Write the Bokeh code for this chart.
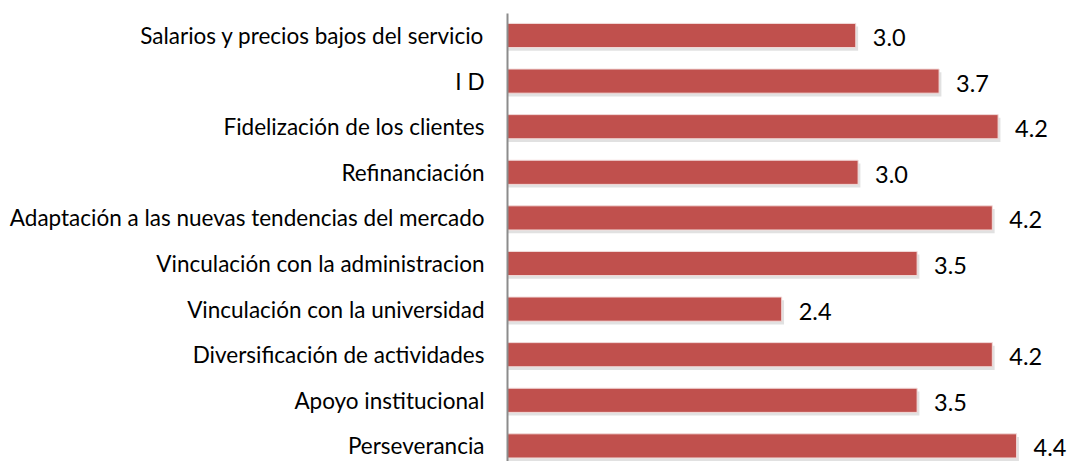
from bokeh.plotting import figure
from bokeh.models import Range1d, FixedTicker, ColumnDataSource
from bokeh.embed import file_html
from bokeh.resources import INLINE
from bokeh.core.properties import value

categories = [
    "Salarios y precios bajos del servicio",
    "I D",
    "Fidelización de los clientes",
    "Refinanciación",
    "Adaptación a las nuevas tendencias del mercado",
    "Vinculación con la administracion",
    "Vinculación con la universidad",
    "Diversificación de actividades",
    "Apoyo institucional",
    "Perseverancia",
]
values = [3.01, 3.73, 4.24, 3.03, 4.19, 3.54, 2.37, 4.19, 3.54, 4.4]

ypos = list(range(len(categories)))
labels = [f"{v:.1f}" for v in values]

src = ColumnDataSource(dict(
    y=ypos,
    ys=[y + 0.07 for y in ypos],
    v=values,
    vs=[v + 0.02 for v in values],
    lab=labels,
))

p = figure(width=1069, height=461, output_backend="svg", toolbar_location=None,
           x_range=Range1d(0, 4.857), y_range=Range1d(9.342, -0.4825),
           min_border_left=507, min_border_right=0, min_border_top=13, min_border_bottom=0)
p.outline_line_color = None
p.grid.visible = False
p.xaxis.visible = False

# shadow
p.hbar(y="ys", right="vs", left=0, height=0.53, source=src,
       fill_color="#9a9a9a", fill_alpha=0.3, line_color=None)
# bars
p.hbar(y="y", right="v", left=0, height=0.53, source=src,
       fill_color="#C0504D", line_color="#f2dcdb", line_width=1)

p.text(x="v", y="y", text="lab", source=src, x_offset=17, y_offset=2,
       text_baseline="middle", text_align="left",
       text_font=value("Lato"), text_font_size="23.5px", text_color="#000000")

ya = p.yaxis[0]
ya.ticker = FixedTicker(ticks=ypos)
ya.major_label_overrides = {i: c for i, c in zip(ypos, categories)}
ya.major_tick_line_color = None
ya.minor_tick_line_color = None
ya.major_tick_out = 0
ya.major_tick_in = 0
ya.major_label_standoff = 23
ya.major_label_text_font = "Lato"
ya.major_label_text_font_size = "22.5px"
ya.major_label_text_color = "#000000"
ya.axis_line_color = "#8c8c8c"
ya.axis_line_width = 2

open("out.html", "w").write(file_html(p, INLINE))
